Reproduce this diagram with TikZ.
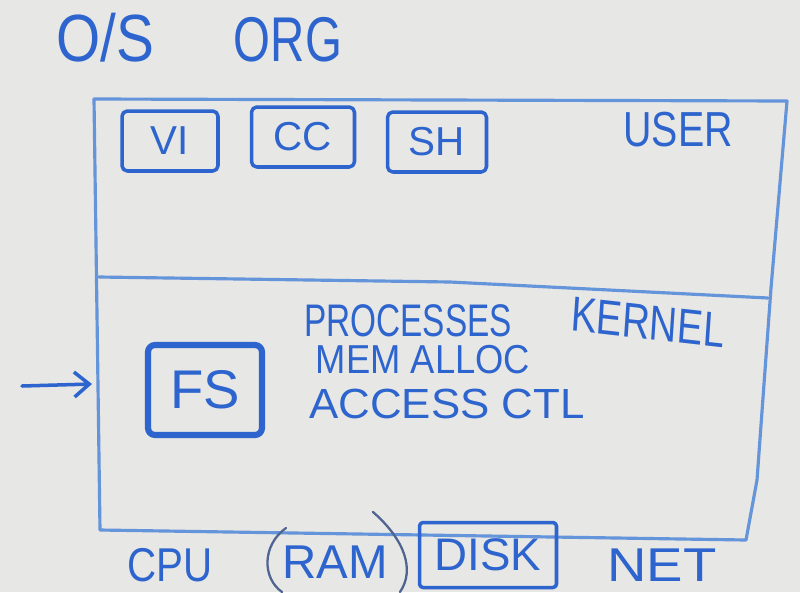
\documentclass[tikz,border=0pt]{standalone}
\usepackage{fontspec}
\setmainfont{Liberation Sans}
\usepackage{tikz}
\usetikzlibrary{arrows.meta}

\definecolor{ink}{RGB}{45,100,205}
\definecolor{inklight}{RGB}{100,148,218}
\definecolor{inkgrey}{RGB}{80,100,145}
\definecolor{board}{RGB}{231,231,229}

\tikzset{
  pen/.style={draw=ink, line width=2pt, line cap=round, line join=round},
  frame/.style={draw=inklight, line width=1.8pt, line cap=round, line join=round},
  word/.style={text=ink, inner sep=0pt, font=\fontsize{#1}{#1}\selectfont},
  word/.default=26,
  prog/.style={pen, word=23, rounded corners=3pt, minimum width=#1, minimum height=1.2cm},
}

\begin{document}
\begin{tikzpicture}[x=0.02cm, y=-0.02cm]
	\fill[board] (0,0) rectangle (800,592);
	\useasboundingbox (0,0) rectangle (800,592);

	\node[word=38, xscale=.85] (os) at (105,38) {O/S};
	\node[word=36, xscale=.75] (org) at (288,40) {ORG};

	\coordinate (tl) at (94,99);
	\coordinate (tr) at (787,101);
	\coordinate (br) at (746,540);
	\coordinate (bl) at (100,530);
	\coordinate (dl) at (99,277);
	\coordinate (dr) at (768,298);
	\draw[frame] (tl) -- (tr) -- (771,288) -- (757,480) -- (br) -- (bl) -- cycle;
	\draw[frame] (dl) -- (450,282) -- (dr);

	\node[prog=1.92cm] (vi) at (170,141) {VI};
	\node[prog=2.06cm] (cc) at (303,137) {CC};
	\node[prog=1.98cm] (sh) at (437,142) {SH};
	\node[word=28, xscale=.8] (user) at (678,130) {USER};

	\node[word=26, xscale=.73] (processes) at (408,321) {PROCESSES};
	\node[word=28, xscale=.78, rotate=-5] (kernel) at (648,322) {KERNEL};
	\node[word=23, xscale=.9] (memalloc) at (423,360) {MEM ALLOC};
	\node[word=24, xscale=1.04] (accessctl) at (447,404) {ACCESS CTL};
	\node[pen, line width=3.5pt, word=31, rounded corners=4pt,
		minimum width=2.28cm, minimum height=1.8cm] (fs) at (205,390) {FS};

	\coordinate (arrowtail) at (22,386);
	\coordinate (arrowtip) at (92,384);
	\draw[pen, -{Straight Barb[length=0.3cm, width=0.5cm]}] (arrowtail) -- (arrowtip);

	\node[word=27, xscale=.85] (cpu) at (170,565) {CPU};
	\node[word=27] (ram) at (335,562) {RAM};
	\draw[draw=inkgrey, line width=1.3pt, line cap=round] (286,528) .. controls (262,545) and (262,578) .. (282,592);
	\draw[draw=inkgrey, line width=1.3pt, line cap=round] (373,512) .. controls (405,540) and (415,570) .. (400,592);
	\node[pen, word=26, rounded corners=2pt, minimum width=2.74cm, minimum height=1.3cm] (disk) at (488,555) {DISK};
	\node[word=27, xscale=1.15] (net) at (662,565) {NET};
\end{tikzpicture}
\end{document}
